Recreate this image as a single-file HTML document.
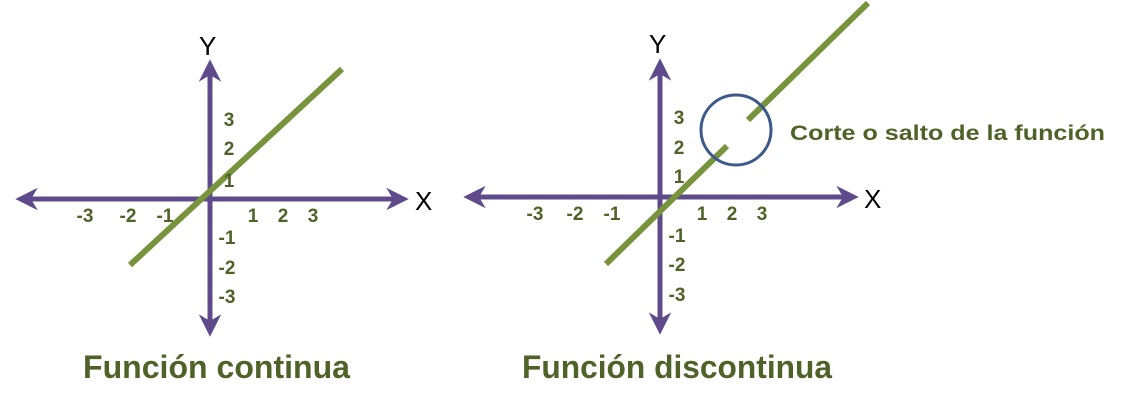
<!DOCTYPE html>
<html><head><style>html,body{margin:0;padding:0;background:#fff}</style></head><body>
<svg width="1134" height="410" xmlns="http://www.w3.org/2000/svg" font-family="Liberation Sans, sans-serif">
<defs>
<marker id="a" viewBox="0 0 10 10" refX="7" refY="5" markerWidth="4.5" markerHeight="4.5" orient="auto-start-reverse">
<path d="M0,0 L10,5 L0,10 L3,5 Z" fill="#5f4b8b"/></marker>
</defs>
<g stroke="#5f4b8b" stroke-width="5" fill="none">
<line x1="22" y1="199" x2="402" y2="199" marker-start="url(#a)" marker-end="url(#a)"/>
<line x1="210" y1="66" x2="210" y2="330" marker-start="url(#a)" marker-end="url(#a)"/>
<line x1="470" y1="197" x2="852" y2="197" marker-start="url(#a)" marker-end="url(#a)"/>
<line x1="660" y1="65" x2="660" y2="328" marker-start="url(#a)" marker-end="url(#a)"/>
</g>
<g stroke="#77933c" stroke-width="6">
<line x1="130" y1="265" x2="342" y2="69"/>
<line x1="606" y1="264" x2="727" y2="146"/>
<line x1="748" y1="120" x2="868" y2="3"/>
</g>
<circle cx="736" cy="130" r="35" fill="none" stroke="#3c5a8c" stroke-width="3"/>
<g fill="#000" font-size="26">
<text x="199" y="55">Y</text><text x="415" y="210">X</text>
<text x="649" y="53">Y</text><text x="864" y="208">X</text>
</g>
<g fill="#4f6228" font-size="19" font-weight="bold" text-anchor="middle">
<text x="229" y="126">3</text><text x="229" y="155">2</text><text x="229" y="187">1</text>
<text x="227" y="244">-1</text><text x="227" y="274">-2</text><text x="227" y="303">-3</text>
<text x="85" y="222">-3</text><text x="128" y="222">-2</text><text x="165" y="222">-1</text>
<text x="253" y="222">1</text><text x="283" y="222">2</text><text x="313" y="222">3</text>
<text x="679" y="124">3</text><text x="679" y="154">2</text><text x="679" y="183">1</text>
<text x="677" y="242">-1</text><text x="677" y="271">-2</text><text x="677" y="301">-3</text>
<text x="535" y="220">-3</text><text x="575" y="220">-2</text><text x="612" y="220">-1</text>
<text x="702" y="220">1</text><text x="732" y="220">2</text><text x="762" y="220">3</text>
</g>
<text x="790" y="140" fill="#4f6228" font-size="21" font-weight="bold" textLength="315" lengthAdjust="spacingAndGlyphs">Corte o salto de la función</text>
<g fill="#4f6228" font-size="32" font-weight="bold">
<text x="83" y="378" textLength="267" lengthAdjust="spacingAndGlyphs">Función continua</text>
<text x="522" y="378" textLength="310" lengthAdjust="spacingAndGlyphs">Función discontinua</text>
</g>
</svg>
</body></html>
